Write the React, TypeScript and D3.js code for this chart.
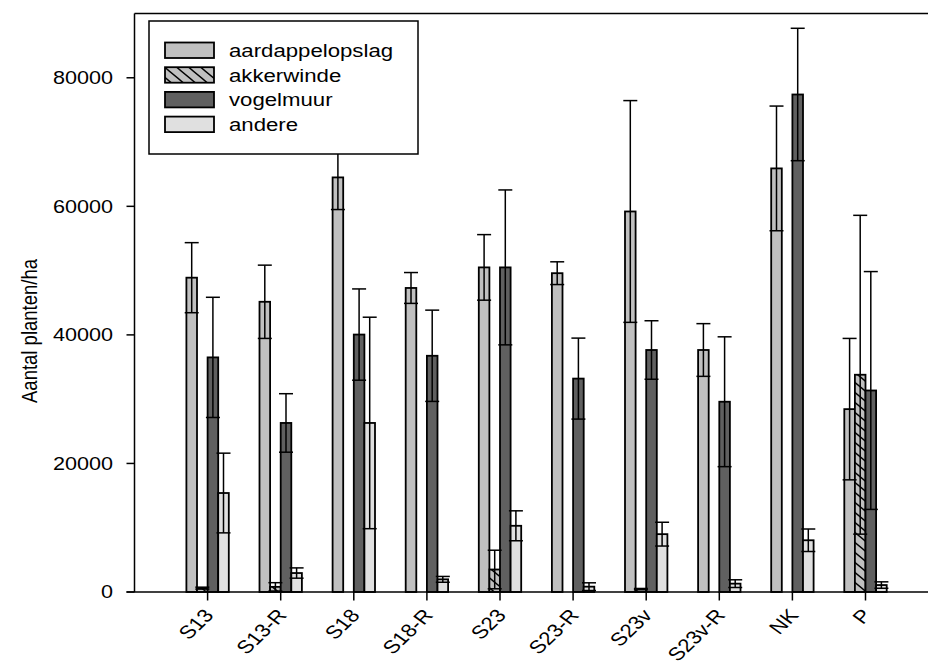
import React from "react";
import * as d3 from "d3";

const categories = ["S13", "S13-R", "S18", "S18-R", "S23", "S23-R", "S23v", "S23v-R", "NK", "P"];
const seriesNames = ["aardappelopslag", "akkerwinde", "vogelmuur", "andere"];

const aardappelopslag = [48900, 45150, 64500, 47300, 50500, 49600, 59200, 37650, 65900, 28450];
const aardappelopslagErr = [5450, 5700, 5000, 2400, 5100, 1770, 17250, 4100, 9700, 11000];
const akkerwinde = [600, 800, 0, 0, 3500, 0, 450, 0, 0, 33800];
const akkerwindeErr = [150, 650, 0, 0, 3000, 0, 100, 0, 0, 24800];
const vogelmuur = [36500, 26300, 40050, 36750, 50500, 33200, 37650, 29600, 77400, 31350];
const vogelmuurErr = [9350, 4550, 7100, 7100, 12050, 6300, 4550, 10100, 10300, 18500];
const andere = [15400, 2950, 26300, 1970, 10300, 830, 9000, 1300, 8050, 1080];
const andereErr = [6200, 800, 16450, 450, 2330, 600, 1850, 600, 1750, 500];

const yTicks = [0, 20000, 40000, 60000, 80000];

const values = [aardappelopslag, akkerwinde, vogelmuur, andere];
const errors = [aardappelopslagErr, akkerwindeErr, vogelmuurErr, andereErr];
const fills = ["#c0c0c0", "url(#hatch)", "#606060", "#e0e0e0"];

const W = 928;
const H = 667;
const left = 134.5;
const base = 592;
const top = 13.5;
const FONT = "'Liberation Sans', Arial, Helvetica, sans-serif";
const SX = 1.2;

export default function App() {
  const y = d3.scaleLinear().domain([0, 90000]).range([base, top]);
  const x = d3
    .scalePoint<string>()
    .domain(categories)
    .range([left, left + 73.1 * 11])
    .padding(1);
  const inner = d3.scaleBand<string>().domain(seriesNames).range([-21.2, 21.2]).padding(0);
  const bw = inner.bandwidth();
  const cap = 7;

  return (
    <svg
      width={W}
      height={H}
      style={{ position: "absolute", left: 0, top: 0, background: "#fff" }}
      fontFamily={FONT}
    >
      <defs>
        <pattern id="hatch" patternUnits="userSpaceOnUse" width={12} height={10}>
          <rect width={12} height={10} fill="#c0c0c0" />
          <path d="M-3,-2.5 L15,12.5 M-3,7.5 L3,12.5 M9,-2.5 L15,2.5" stroke="#000" strokeWidth={1.4} />
        </pattern>
      </defs>
      <rect x={0} y={0} width={W} height={H} fill="#fff" />

      {/* bars */}
      {categories.map((c, i) => (
        <g key={c}>
          {seriesNames.map((s, k) => {
            const v = values[k][i];
            if (!v) return null;
            const bx = (x(c) as number) + (inner(s) as number);
            return (
              <rect
                key={s}
                x={bx}
                y={y(v)}
                width={bw}
                height={base - y(v)}
                fill={fills[k]}
                stroke="#000"
                strokeWidth={1.8}
              />
            );
          })}
          {seriesNames.map((s, k) => {
            const v = values[k][i];
            const e = errors[k][i];
            if (!v || !e) return null;
            const cx = (x(c) as number) + (inner(s) as number) + bw / 2;
            const y1 = y(v + e);
            const y0 = y(Math.max(0, v - e));
            return (
              <g key={s + "e"} stroke="#000" strokeWidth={1.5}>
                <line x1={cx} x2={cx} y1={y1} y2={y0} />
                <line x1={cx - cap} x2={cx + cap} y1={y1} y2={y1} />
                {v - e > 0 && <line x1={cx - cap} x2={cx + cap} y1={y0} y2={y0} />}
              </g>
            );
          })}
        </g>
      ))}

      {/* frame */}
      <line x1={left} x2={W + 10} y1={top} y2={top} stroke="#000" strokeWidth={1.5} />
      <line x1={left} x2={left} y1={top} y2={base} stroke="#000" strokeWidth={1.5} />
      <line x1={left - 8} x2={W + 10} y1={base} y2={base} stroke="#000" strokeWidth={1.5} />

      {/* y axis */}
      {yTicks.map((t) => (
        <g key={t}>
          <line x1={left - 8} x2={left} y1={y(t)} y2={y(t)} stroke="#000" strokeWidth={1.5} />
          <g transform={`translate(113,${y(t)}) scale(${SX},1)`}>
            <text textAnchor="end" dy="0.36em" fontSize={18} fill="#000">
              {t}
            </text>
          </g>
        </g>
      ))}
      <g transform={`translate(37,331) scale(${SX},1) rotate(-90)`}>
        <text textAnchor="middle" fontSize={18.5} fill="#000">
          Aantal planten/ha
        </text>
      </g>

      {/* x axis */}
      {categories.map((c) => {
        const cx = x(c) as number;
        return (
          <g key={c}>
            <line x1={cx} x2={cx} y1={base} y2={base + 8.5} stroke="#000" strokeWidth={1.5} />
            <g transform={`translate(${cx + 7},616) scale(${SX},1) rotate(-49)`}>
              <text textAnchor="end" fontSize={18.5} fill="#000">
                {c}
              </text>
            </g>
          </g>
        );
      })}

      {/* legend */}
      <rect x={149} y={21} width={269} height={133} fill="#fff" stroke="#000" strokeWidth={1.5} />
      {seriesNames.map((s, k) => {
        const ty = 42.5 + k * 24.7;
        return (
          <g key={s}>
            <rect x={165} y={ty} width={49} height={15.5} fill={fills[k]} stroke="#000" strokeWidth={1.8} />
            <g transform={`translate(229,${ty + 8}) scale(${SX},1)`}>
              <text dy="0.35em" fontSize={18.5} fill="#000">
                {s}
              </text>
            </g>
          </g>
        );
      })}
    </svg>
  );
}
